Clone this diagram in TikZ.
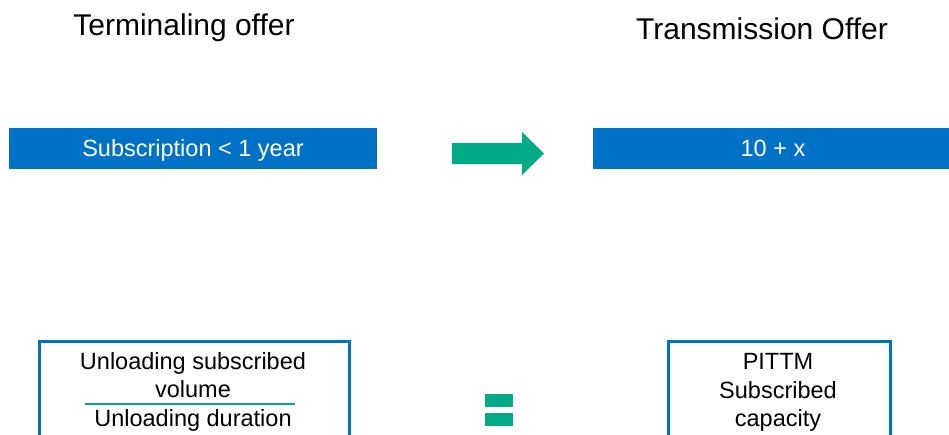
\documentclass[tikz,border=0pt]{standalone}
\usepackage{fontspec}
\setmainfont{Liberation Sans}
\definecolor{barblue}{RGB}{0,114,198}
\definecolor{offgreen}{RGB}{0,170,135}
\tikzset{
  title/.style={font=\fontsize{30}{36}\selectfont, text=black, inner sep=0, anchor=base},
  bar/.style={fill=barblue, inner sep=0, minimum height=41, anchor=north west},
  outbox/.style={draw=barblue, line width=2.5, anchor=north west, inner sep=0},
  boxtext/.style={font=\fontsize{23.5}{28}\selectfont, text=black, inner sep=0, anchor=base},
}
\begin{document}
\begin{tikzpicture}[x=1pt,y=-1pt]
\useasboundingbox (0,0) rectangle (949,434);
\clip (0,0) rectangle (949,434);
\node[title] (t1) at (184,35) {Terminaling offer};
\node[title] (t2) at (762,39.5) {Transmission Offer};
\node[bar, minimum width=368] (b1) at (9,128) {};
\node[boxtext, text=white] (b1t) at (193,156.5) {Subscription < 1 year};
\node[bar, minimum width=356] (b2) at (593,128) {};
\node[boxtext, text=white] (b2t) at (773,156.5) {10 + x};
\fill[offgreen] (452,143) -- (522,143) -- (522,132) -- (544,153.5) -- (522,175) -- (522,164) -- (452,164) -- cycle;
\node[outbox, minimum width=310, minimum height=120] (lbox) at (38,340) {};
\node[outbox, minimum width=222, minimum height=120] (rbox) at (667,340) {};
\node[boxtext] (l1) at (193,369) {Unloading subscribed};
\node[boxtext] (l2) at (193,397.5) {volume};
\node[boxtext] (l3) at (193,426) {Unloading duration};
\coordinate (fa) at (85,403.5);
\coordinate (fb) at (295,403.5);
\draw[offgreen, line width=2] (fa) -- (fb);
\node[boxtext] (r1) at (778,369.5) {PITTM};
\node[boxtext] (r2) at (778,398) {Subscribed};
\node[boxtext] (r3) at (778,426.5) {capacity};
\fill[offgreen] (485,394) rectangle (513,407);
\fill[offgreen] (485,413) rectangle (513,426);
\end{tikzpicture}
\end{document}
